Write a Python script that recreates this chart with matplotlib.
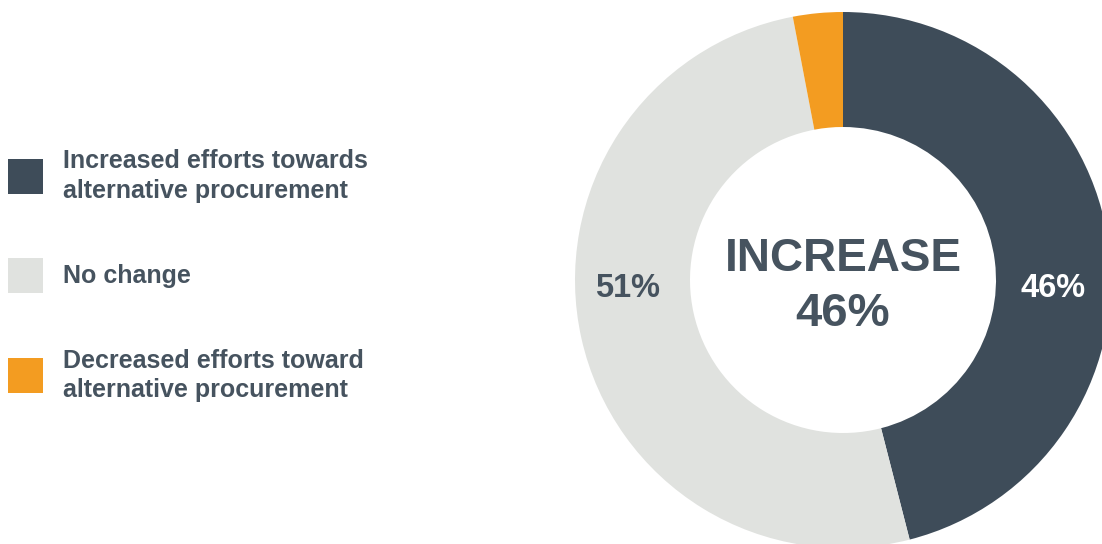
import matplotlib
matplotlib.use("Agg")
import matplotlib.pyplot as plt

categories = ["Increased efforts towards\nalternative procurement",
              "No change",
              "Decreased efforts toward\nalternative procurement"]
values = [46, 51, 3]
labels = ["46%", "51%", ""]
colors = ["#3E4C59", "#E0E2DF", "#F39C21"]
center_title = "INCREASE"
center_value = "46%"

W, H = 1102, 544
fig = plt.figure(figsize=(W / 100, H / 100), dpi=100)
fig.patch.set_facecolor("white")
plt.rcParams['font.family'] = ['Liberation Sans', 'DejaVu Sans']

text_color = "#46535F"

# Donut axes (pixel geometry)
cx, cy, R, r = 843, 280, 268, 153
ax = fig.add_axes([(cx - R) / W, (H - cy - R) / H, 2 * R / W, 2 * R / H])
ax.axis("off")
wedges, _ = ax.pie(values, colors=colors, startangle=90, counterclock=False,
                   radius=1, wedgeprops=dict(width=(R - r) / R, linewidth=0),
                   frame=False)
ax.set_xlim(-1, 1)
ax.set_ylim(-1, 1)
ax.set_aspect("auto")

# percentage labels on the horizontal axis of the ring
mid = (1 + r / R) / 2
label_x = [mid, -mid - 0.02, 0]
lab_colors = ["white", text_color, text_color]
for lab, lx, lc in zip(labels, label_x, lab_colors):
    if lab:
        ax.text(lx, -0.03, lab, ha="center", va="center", fontsize=23.5,
                fontweight="bold", color=lc)

ax.text(0, 0.08, center_title, ha="center", va="center", fontsize=33,
        fontweight="bold", color=text_color)
ax.text(0, -0.125, center_value, ha="center", va="center", fontsize=34,
        fontweight="bold", color=text_color)

# Legend
sq_x, sq = 8, 35
sq_centers = [176, 275.5, 375.5]
for cat, col, yc in zip(categories, colors, sq_centers):
    fig.patches.append(plt.Rectangle((sq_x / W, (H - yc - sq / 2) / H), sq / W, sq / H,
                                     transform=fig.transFigure, facecolor=col,
                                     edgecolor="none"))
    fig.text(63 / W, (H - yc) / H, cat, ha="left", va="center", fontsize=18,
             fontweight="bold", color=text_color, linespacing=1.3)

fig.savefig("out.png", dpi=100, facecolor="white")
